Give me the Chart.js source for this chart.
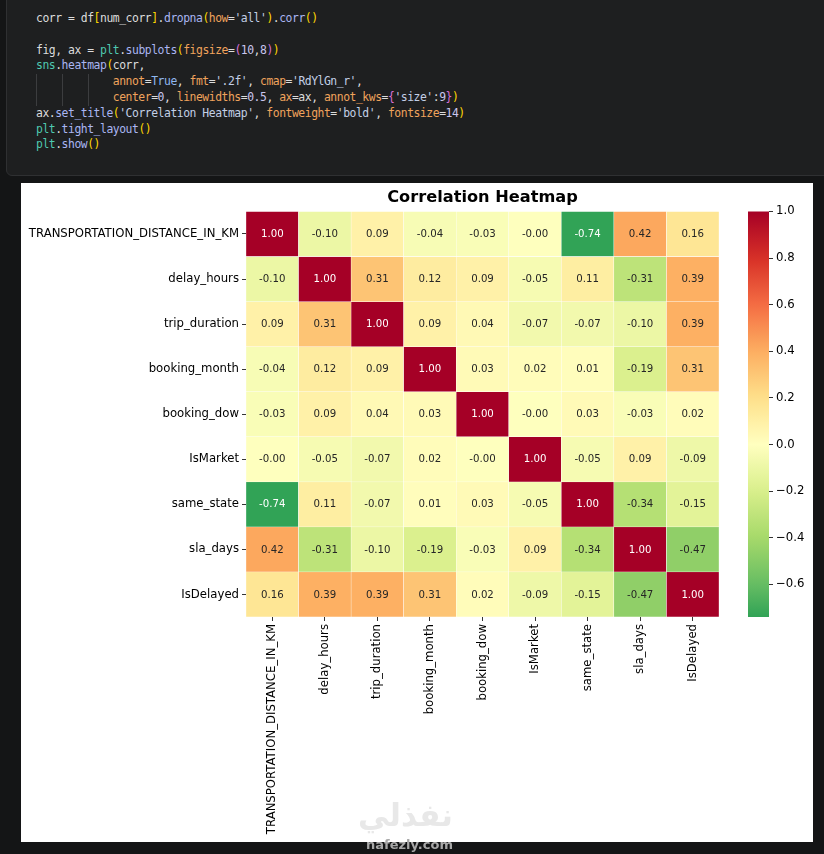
<!DOCTYPE html>
<html>
<head>
<meta charset="utf-8">
<script src="https://cdn.jsdelivr.net/npm/chart.js@4.4.1/dist/chart.umd.min.js"></script>
<style>
  html, body { margin: 0; padding: 0; }
  body { width: 824px; height: 854px; overflow: hidden; background: #141516; position: relative; }
  .cell { position: absolute; left: 6px; top: -10px; width: 840px; height: 184px; background: #1e1f20;
          border: 1px solid #2f3032; border-radius: 6px; }
  .guide { position: absolute; width: 1px; top: 74px; height: 32px; background: #3c3d3f; }
  pre.code { position: absolute; left: 36px; top: 11px; margin: 0; font: 11.4px/15.8px "DejaVu Sans Mono", monospace;
             letter-spacing: -0.46px; color: #dcdcdc; }
  .md { color: #4ec9b0; } .fn { color: #aab6f2; } .kw { color: #f0a35c; } .st { color: #c3cfe6; }
  .nm { color: #c9c6ee; } .tr { color: #8fb8f0; } .b1 { color: #ffd700; } .b2 { color: #da70d6; }
  .panel { position: absolute; left: 21px; top: 183px; width: 792px; height: 659px; background: #ffffff; }
  #heatWrap { position: absolute; left: 0; top: 0; width: 792px; height: 659px; }
  #barWrap { position: absolute; left: 719px; top: 0; width: 70px; height: 659px; }
  .wm1 { position: absolute; left: 358px; top: 797px; font: bold 31px "DejaVu Sans", sans-serif; color: #e8e8e8; direction: rtl; }
  .wm2 { position: absolute; left: 366px; top: 837px; font: bold 13px "DejaVu Sans", sans-serif; color: #a8a8a8; }
</style>
</head>
<body>
<div class="cell"></div>
<div class="guide" style="left:36px"></div>
<div class="guide" style="left:62px"></div>
<div class="guide" style="left:88px"></div>
<pre class="code">corr = df<span class="b1">[</span>num_corr<span class="b1">]</span>.<span class="fn">dropna</span><span class="b1">(</span><span class="kw">how</span>=<span class="st">'all'</span><span class="b1">)</span>.<span class="fn">corr</span><span class="b1">()</span>

fig, ax = <span class="md">plt</span>.<span class="fn">subplots</span><span class="b1">(</span><span class="kw">figsize</span>=<span class="b2">(</span><span class="nm">10</span>,<span class="nm">8</span><span class="b2">)</span><span class="b1">)</span>
<span class="md">sns</span>.<span class="fn">heatmap</span><span class="b1">(</span>corr,
            <span class="kw">annot</span>=<span class="tr">True</span>, <span class="kw">fmt</span>=<span class="st">'.2f'</span>, <span class="kw">cmap</span>=<span class="st">'RdYlGn_r'</span>,
            <span class="kw">center</span>=<span class="nm">0</span>, <span class="kw">linewidths</span>=<span class="nm">0.5</span>, <span class="kw">ax</span>=ax, <span class="kw">annot_kws</span>=<span class="b2">{</span><span class="st">'size'</span>:<span class="nm">9</span><span class="b2">}</span><span class="b1">)</span>
ax.<span class="fn">set_title</span><span class="b1">(</span><span class="st">'Correlation Heatmap'</span>, <span class="kw">fontweight</span>=<span class="st">'bold'</span>, <span class="kw">fontsize</span>=<span class="nm">14</span><span class="b1">)</span>
<span class="md">plt</span>.<span class="fn">tight_layout</span><span class="b1">()</span>
<span class="md">plt</span>.<span class="fn">show</span><span class="b1">()</span></pre>

<div class="panel">
  <div id="heatWrap"><canvas id="heatmap"></canvas></div>
  <div id="barWrap"><canvas id="colorbar"></canvas></div>
</div>
<div class="wm1">نفذلي</div>
<div class="wm2">nafezly.com</div>

<script>
// variables of the correlation matrix (same order for rows and columns)
const features = ['TRANSPORTATION_DISTANCE_IN_KM', 'delay_hours', 'trip_duration', 'booking_month',
                  'booking_dow', 'IsMarket', 'same_state', 'sla_days', 'IsDelayed'];

// one row of the matrix per feature (-0.003 = shown as -0.00)
const rowDistance   = [1.00, -0.10, 0.09, -0.04, -0.03, -0.003, -0.74, 0.42, 0.16];
const rowDelayHours = [-0.10, 1.00, 0.31, 0.12, 0.09, -0.05, 0.11, -0.31, 0.39];
const rowTripDur    = [0.09, 0.31, 1.00, 0.09, 0.04, -0.07, -0.07, -0.10, 0.39];
const rowBookMonth  = [-0.04, 0.12, 0.09, 1.00, 0.03, 0.02, 0.01, -0.19, 0.31];
const rowBookDow    = [-0.03, 0.09, 0.04, 0.03, 1.00, -0.003, 0.03, -0.03, 0.02];
const rowIsMarket   = [-0.003, -0.05, -0.07, 0.02, -0.003, 1.00, -0.05, 0.09, -0.09];
const rowSameState  = [-0.74, 0.11, -0.07, 0.01, 0.03, -0.05, 1.00, -0.34, -0.15];
const rowSlaDays    = [0.42, -0.31, -0.10, -0.19, -0.03, 0.09, -0.34, 1.00, -0.47];
const rowIsDelayed  = [0.16, 0.39, 0.39, 0.31, 0.02, -0.09, -0.15, -0.47, 1.00];

const corrRows = [rowDistance, rowDelayHours, rowTripDur, rowBookMonth, rowBookDow,
                  rowIsMarket, rowSameState, rowSlaDays, rowIsDelayed];

// colorbar tick labels
const cbTicks = [-0.6, -0.4, -0.2, 0.0, 0.2, 0.4, 0.6, 0.8, 1.0];

// RdYlGn reversed (green -> yellow -> red)
const rdylgnR = [[0,104,55],[26,152,80],[102,189,99],[166,217,106],[217,239,139],[255,255,191],
                 [254,224,139],[253,174,97],[244,109,67],[215,48,39],[165,0,38]];

function cmapRgb(v) {
  // center=0 -> the colormap is normalised over [-1, 1]
  let t = Math.min(1, Math.max(0, (v + 1) / 2));
  const n = rdylgnR.length - 1;
  const p = t * n;
  const i = Math.min(n - 1, Math.floor(p));
  const f = p - i;
  return rdylgnR[i].map((a, k) => a + (rdylgnR[i + 1][k] - a) * f);
}
function cmapColor(v) {
  const c = cmapRgb(v);
  return 'rgb(' + c.map(Math.round).join(',') + ')';
}
function textColor(v) {
  // same rule seaborn uses: relative luminance of the cell
  const lin = cmapRgb(v).map(x => {
    x = x / 255;
    return x <= 0.03928 ? x / 12.92 : Math.pow((x + 0.055) / 1.055, 2.4);
  });
  const lum = 0.2126 * lin[0] + 0.7152 * lin[1] + 0.0722 * lin[2];
  return lum > 0.408 ? '#262626' : '#ffffff';
}

const allVals = corrRows.flat();
const vmin = Math.min(...allVals);
const vmax = Math.max(...allVals);

Chart.defaults.font.family = '"DejaVu Sans", sans-serif';
Chart.defaults.color = '#000';

// write the value in every cell
const annotPlugin = {
  id: 'annot',
  afterDatasetsDraw(chart) {
    const c = chart.ctx;
    c.save();
    c.font = '10.2px "DejaVu Sans"';
    c.textAlign = 'center';
    c.textBaseline = 'middle';
    chart.data.datasets.forEach((ds, i) => {
      chart.getDatasetMeta(i).data.forEach((el, j) => {
        const v = corrRows[i][j];
        c.fillStyle = textColor(v);
        c.fillText(v.toFixed(2), el.x, (el.y + el.base) / 2 + 0.5);
      });
    });
    c.restore();
  }
};

new Chart(document.getElementById('heatmap'), {
  type: 'bar',
  data: {
    labels: features,
    datasets: corrRows.map((row, i) => ({
      data: row.map(() => [i, i + 1]),
      backgroundColor: row.map(v => cmapColor(v)),
      borderColor: '#ffffff',
      borderWidth: 0.5,
      borderSkipped: false,
      barPercentage: 1,
      categoryPercentage: 1,
      grouped: false
    }))
  },
  options: {
    responsive: true,
    maintainAspectRatio: false,
    animation: false,
    layout: { padding: { left: 0, right: 94, top: 0, bottom: 0 } },
    plugins: {
      legend: { display: false },
      tooltip: { enabled: false },
      title: {
        display: true,
        text: 'Correlation Heatmap',
        fullSize: false,
        color: '#000',
        font: { size: 16.2, weight: 'bold', lineHeight: 1.2 },
        padding: { top: 5, bottom: 4 }
      }
    },
    scales: {
      x: {
        ticks: { minRotation: 90, maxRotation: 90, autoSkip: false, padding: 3, font: { size: 11.7 } },
        grid: { offset: false, drawOnChartArea: false, tickLength: 4, color: '#000', lineWidth: 0.8 },
        border: { display: false },
        afterFit: (ax) => { ax.height = 225; }
      },
      y: {
        min: 0,
        max: features.length,
        reverse: true,
        afterBuildTicks: (ax) => { ax.ticks = features.map((_, i) => ({ value: i + 0.5 })); },
        ticks: { autoSkip: false, padding: 3, font: { size: 11.7 },
                 callback: (v) => features[Math.floor(v)] },
        grid: { drawOnChartArea: false, tickLength: 4, color: '#000', lineWidth: 0.8 },
        border: { display: false },
        afterFit: (ax) => { ax.width = 225; }
      }
    }
  },
  plugins: [annotPlugin]
});

// colorbar
new Chart(document.getElementById('colorbar'), {
  type: 'bar',
  data: {
    labels: ['cb'],
    datasets: [{
      data: [[vmin, vmax]],
      backgroundColor: (ctx) => {
        const chart = ctx.chart;
        if (!chart.chartArea) return '#ffffbf';
        const y = chart.scales.y;
        const g = chart.ctx.createLinearGradient(0, y.getPixelForValue(vmin), 0, y.getPixelForValue(vmax));
        const steps = 40;
        for (let k = 0; k <= steps; k++) {
          g.addColorStop(k / steps, cmapColor(vmin + (vmax - vmin) * k / steps));
        }
        return g;
      },
      borderWidth: 0,
      barPercentage: 1,
      categoryPercentage: 1
    }]
  },
  options: {
    responsive: true,
    maintainAspectRatio: false,
    animation: false,
    layout: { padding: { left: 8, right: 0, top: 28.4, bottom: 225 } },
    plugins: { legend: { display: false }, tooltip: { enabled: false } },
    scales: {
      x: { display: false },
      y: {
        position: 'right',
        min: vmin,
        max: vmax,
        afterBuildTicks: (ax) => { ax.ticks = cbTicks.map(v => ({ value: v })); },
        ticks: { padding: 3, font: { size: 11.7 },
                 callback: (v) => v.toFixed(1).replace('-', '\u2212') },
        grid: { drawOnChartArea: false, tickLength: 4, color: '#000', lineWidth: 0.8 },
        border: { display: false },
        afterFit: (ax) => { ax.width = 41; }
      }
    }
  }
});
</script>
</body>
</html>
